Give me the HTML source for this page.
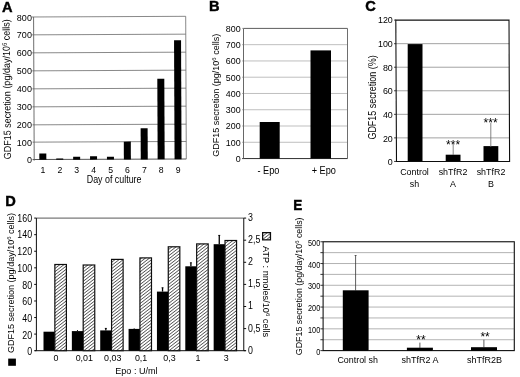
<!DOCTYPE html>
<html lang="en"><head><meta charset="utf-8"><title>GDF15 secretion figure</title>
<style>html,body{margin:0;padding:0;background:#fff;}body{width:520px;height:377px;overflow:hidden;}svg{display:block;font-family:'Liberation Sans', sans-serif;}</style>
</head><body>
<svg width="520" height="377" viewBox="0 0 520 377">
<defs><filter id="soft" x="0" y="0" width="520" height="377" filterUnits="userSpaceOnUse"><feGaussianBlur stdDeviation="0.35"/></filter><pattern id="hatch" width="2.5" height="2.5" patternUnits="userSpaceOnUse" patternTransform="rotate(-38)"><rect width="2.5" height="2.5" fill="#fff"/><rect width="2.5" height="0.7" fill="#333"/></pattern></defs>
<rect width="520" height="377" fill="#fff"/>
<g filter="url(#soft)">
<g transform="rotate(-0.25 110 88)">
<line x1="33.90" y1="16.65" x2="186.00" y2="16.65" stroke="#6c6c6c" stroke-width="0.8"/>
<line x1="33.90" y1="34.50" x2="186.00" y2="34.50" stroke="#6c6c6c" stroke-width="0.8"/>
<line x1="33.90" y1="52.50" x2="186.00" y2="52.50" stroke="#6c6c6c" stroke-width="0.8"/>
<line x1="33.90" y1="70.50" x2="186.00" y2="70.50" stroke="#6c6c6c" stroke-width="0.8"/>
<line x1="33.90" y1="88.50" x2="186.00" y2="88.50" stroke="#6c6c6c" stroke-width="0.8"/>
<line x1="33.90" y1="106.50" x2="186.00" y2="106.50" stroke="#6c6c6c" stroke-width="0.8"/>
<line x1="33.90" y1="124.50" x2="186.00" y2="124.50" stroke="#6c6c6c" stroke-width="0.8"/>
<line x1="33.90" y1="141.80" x2="186.00" y2="141.80" stroke="#6c6c6c" stroke-width="0.8"/>
<line x1="33.90" y1="16.65" x2="33.90" y2="160.25" stroke="#666" stroke-width="0.95"/>
<line x1="186.00" y1="16.65" x2="186.00" y2="159.25" stroke="#6c6c6c" stroke-width="0.8"/>
<line x1="32.40" y1="159.25" x2="186.00" y2="159.25" stroke="#555" stroke-width="1"/>
<line x1="32.40" y1="16.65" x2="33.90" y2="16.65" stroke="#666" stroke-width="0.9"/>
<line x1="32.40" y1="34.50" x2="33.90" y2="34.50" stroke="#666" stroke-width="0.9"/>
<line x1="32.40" y1="52.50" x2="33.90" y2="52.50" stroke="#666" stroke-width="0.9"/>
<line x1="32.40" y1="70.50" x2="33.90" y2="70.50" stroke="#666" stroke-width="0.9"/>
<line x1="32.40" y1="88.50" x2="33.90" y2="88.50" stroke="#666" stroke-width="0.9"/>
<line x1="32.40" y1="106.50" x2="33.90" y2="106.50" stroke="#666" stroke-width="0.9"/>
<line x1="32.40" y1="124.50" x2="33.90" y2="124.50" stroke="#666" stroke-width="0.9"/>
<line x1="32.40" y1="141.80" x2="33.90" y2="141.80" stroke="#666" stroke-width="0.9"/>
<line x1="32.40" y1="159.25" x2="33.90" y2="159.25" stroke="#666" stroke-width="0.9"/>
<rect x="39.05" y="153.10" width="7.00" height="6.45" fill="#000"/>
<rect x="55.95" y="158.20" width="7.00" height="1.35" fill="#000"/>
<rect x="72.85" y="156.70" width="7.00" height="2.85" fill="#000"/>
<rect x="89.75" y="156.20" width="7.00" height="3.35" fill="#000"/>
<rect x="106.65" y="156.80" width="7.00" height="2.75" fill="#000"/>
<rect x="123.55" y="141.70" width="7.00" height="17.85" fill="#000"/>
<rect x="140.45" y="128.40" width="7.00" height="31.15" fill="#000"/>
<rect x="157.35" y="78.90" width="7.00" height="80.65" fill="#000"/>
<rect x="174.25" y="40.50" width="7.00" height="119.05" fill="#000"/>
</g>
<text transform="translate(31.90 20.50) scale(0.97 1)" font-size="9.3" text-anchor="end" fill="#000">800</text>
<text transform="translate(31.90 38.35) scale(0.97 1)" font-size="9.3" text-anchor="end" fill="#000">700</text>
<text transform="translate(31.90 56.35) scale(0.97 1)" font-size="9.3" text-anchor="end" fill="#000">600</text>
<text transform="translate(31.90 74.35) scale(0.97 1)" font-size="9.3" text-anchor="end" fill="#000">500</text>
<text transform="translate(31.90 92.35) scale(0.97 1)" font-size="9.3" text-anchor="end" fill="#000">400</text>
<text transform="translate(31.90 110.35) scale(0.97 1)" font-size="9.3" text-anchor="end" fill="#000">300</text>
<text transform="translate(31.90 128.35) scale(0.97 1)" font-size="9.3" text-anchor="end" fill="#000">200</text>
<text transform="translate(31.90 145.65) scale(0.97 1)" font-size="9.3" text-anchor="end" fill="#000">100</text>
<text transform="translate(31.90 163.10) scale(0.97 1)" font-size="9.3" text-anchor="end" fill="#000">0</text>
<text transform="translate(42.95 172.70)" font-size="8.7" text-anchor="middle" fill="#000">1</text>
<text transform="translate(59.85 172.70)" font-size="8.7" text-anchor="middle" fill="#000">2</text>
<text transform="translate(76.75 172.70)" font-size="8.7" text-anchor="middle" fill="#000">3</text>
<text transform="translate(93.65 172.70)" font-size="8.7" text-anchor="middle" fill="#000">4</text>
<text transform="translate(110.55 172.70)" font-size="8.7" text-anchor="middle" fill="#000">5</text>
<text transform="translate(127.45 172.70)" font-size="8.7" text-anchor="middle" fill="#000">6</text>
<text transform="translate(144.35 172.70)" font-size="8.7" text-anchor="middle" fill="#000">7</text>
<text transform="translate(161.25 172.70)" font-size="8.7" text-anchor="middle" fill="#000">8</text>
<text transform="translate(178.15 172.70)" font-size="8.7" text-anchor="middle" fill="#000">9</text>
<text transform="translate(114.10 182.50) scale(0.855 1)" font-size="10.4" text-anchor="middle" fill="#000">Day of culture</text>
<text transform="translate(11.10 159.20) rotate(-90.65) scale(0.88 1)" font-size="10.2" text-anchor="start" textLength="159.09" lengthAdjust="spacingAndGlyphs" fill="#000">GDF15 secretion (pg/day/10<tspan font-size="66%" dy="-3">6</tspan><tspan dy="3"> cells)</tspan></text>
<text transform="translate(1.96 11.59) scale(0.95 1)" font-size="15.4" text-anchor="start" font-weight="bold" stroke="#000" stroke-width="0.45" fill="#000">A</text>
<line x1="243.50" y1="44.67" x2="347.50" y2="44.67" stroke="#b8b8b8" stroke-width="0.9"/>
<line x1="243.50" y1="60.94" x2="347.50" y2="60.94" stroke="#b8b8b8" stroke-width="0.9"/>
<line x1="243.50" y1="77.21" x2="347.50" y2="77.21" stroke="#b8b8b8" stroke-width="0.9"/>
<line x1="243.50" y1="93.47" x2="347.50" y2="93.47" stroke="#b8b8b8" stroke-width="0.9"/>
<line x1="243.50" y1="109.74" x2="347.50" y2="109.74" stroke="#b8b8b8" stroke-width="0.9"/>
<line x1="243.50" y1="126.01" x2="347.50" y2="126.01" stroke="#b8b8b8" stroke-width="0.9"/>
<line x1="243.50" y1="142.28" x2="347.50" y2="142.28" stroke="#b8b8b8" stroke-width="0.9"/>
<line x1="243.50" y1="28.40" x2="347.50" y2="28.40" stroke="#4a4a4a" stroke-width="0.9"/>
<line x1="347.50" y1="28.40" x2="347.50" y2="158.55" stroke="#666" stroke-width="0.95"/>
<line x1="243.50" y1="28.40" x2="243.50" y2="158.55" stroke="#555" stroke-width="0.9"/>
<line x1="242.00" y1="158.55" x2="347.50" y2="158.55" stroke="#333" stroke-width="1"/>
<line x1="242.30" y1="28.40" x2="243.50" y2="28.40" stroke="#777" stroke-width="0.8"/>
<text transform="translate(240.70 31.70) scale(0.9 1)" font-size="9.9" text-anchor="end" fill="#000">800</text>
<line x1="242.30" y1="44.67" x2="243.50" y2="44.67" stroke="#777" stroke-width="0.8"/>
<text transform="translate(240.70 47.97) scale(0.9 1)" font-size="9.9" text-anchor="end" fill="#000">700</text>
<line x1="242.30" y1="60.94" x2="243.50" y2="60.94" stroke="#777" stroke-width="0.8"/>
<text transform="translate(240.70 64.24) scale(0.9 1)" font-size="9.9" text-anchor="end" fill="#000">600</text>
<line x1="242.30" y1="77.21" x2="243.50" y2="77.21" stroke="#777" stroke-width="0.8"/>
<text transform="translate(240.70 80.51) scale(0.9 1)" font-size="9.9" text-anchor="end" fill="#000">500</text>
<line x1="242.30" y1="93.47" x2="243.50" y2="93.47" stroke="#777" stroke-width="0.8"/>
<text transform="translate(240.70 96.77) scale(0.9 1)" font-size="9.9" text-anchor="end" fill="#000">400</text>
<line x1="242.30" y1="109.74" x2="243.50" y2="109.74" stroke="#777" stroke-width="0.8"/>
<text transform="translate(240.70 113.04) scale(0.9 1)" font-size="9.9" text-anchor="end" fill="#000">300</text>
<line x1="242.30" y1="126.01" x2="243.50" y2="126.01" stroke="#777" stroke-width="0.8"/>
<text transform="translate(240.70 129.31) scale(0.9 1)" font-size="9.9" text-anchor="end" fill="#000">200</text>
<line x1="242.30" y1="142.28" x2="243.50" y2="142.28" stroke="#777" stroke-width="0.8"/>
<text transform="translate(240.70 145.58) scale(0.9 1)" font-size="9.9" text-anchor="end" fill="#000">100</text>
<line x1="242.30" y1="158.55" x2="243.50" y2="158.55" stroke="#777" stroke-width="0.8"/>
<text transform="translate(240.70 161.85) scale(0.9 1)" font-size="9.9" text-anchor="end" fill="#000">0</text>
<rect x="259.70" y="122.00" width="20.00" height="36.55" fill="#000"/>
<rect x="310.50" y="50.40" width="20.50" height="108.15" fill="#000"/>
<text transform="translate(268.40 173.90) scale(0.9 1)" font-size="10.2" text-anchor="middle" fill="#000">- Epo</text>
<text transform="translate(323.80 173.90) scale(0.9 1)" font-size="10.2" text-anchor="middle" fill="#000">+ Epo</text>
<text transform="translate(219.30 156.80) rotate(-90)" font-size="9.2" text-anchor="start" textLength="123.00" lengthAdjust="spacingAndGlyphs" fill="#000">GDF15 secretion (pg/10<tspan font-size="66%" dy="-3">6</tspan><tspan dy="3"> cells)</tspan></text>
<text transform="translate(208.90 11.35) scale(0.95 1)" font-size="15.4" text-anchor="start" font-weight="bold" stroke="#000" stroke-width="0.45" fill="#000">B</text>
<line x1="396.10" y1="43.66" x2="509.30" y2="43.66" stroke="#999" stroke-width="0.9"/>
<line x1="396.10" y1="67.22" x2="509.30" y2="67.22" stroke="#999" stroke-width="0.9"/>
<line x1="396.10" y1="90.78" x2="509.30" y2="90.78" stroke="#999" stroke-width="0.9"/>
<line x1="396.10" y1="114.33" x2="509.30" y2="114.33" stroke="#999" stroke-width="0.9"/>
<line x1="396.10" y1="137.89" x2="509.30" y2="137.89" stroke="#999" stroke-width="0.9"/>
<polygon points="395.8,20.1 509.0,20.0 509.6,161.5 396.5,161.4" fill="none" stroke="#111" stroke-width="1.1"/>
<line x1="394.10" y1="20.10" x2="396.10" y2="20.10" stroke="#222" stroke-width="0.9"/>
<text transform="translate(392.80 23.40) scale(0.9 1)" font-size="9.9" text-anchor="end" fill="#000">120</text>
<line x1="394.10" y1="43.66" x2="396.10" y2="43.66" stroke="#222" stroke-width="0.9"/>
<text transform="translate(392.80 47.06) scale(0.9 1)" font-size="9.9" text-anchor="end" fill="#000">100</text>
<line x1="394.10" y1="67.22" x2="396.10" y2="67.22" stroke="#222" stroke-width="0.9"/>
<text transform="translate(392.80 70.72) scale(0.9 1)" font-size="9.9" text-anchor="end" fill="#000">80</text>
<line x1="394.10" y1="90.78" x2="396.10" y2="90.78" stroke="#222" stroke-width="0.9"/>
<text transform="translate(392.80 94.38) scale(0.9 1)" font-size="9.9" text-anchor="end" fill="#000">60</text>
<line x1="394.10" y1="114.33" x2="396.10" y2="114.33" stroke="#222" stroke-width="0.9"/>
<text transform="translate(392.80 118.03) scale(0.9 1)" font-size="9.9" text-anchor="end" fill="#000">40</text>
<line x1="394.10" y1="137.89" x2="396.10" y2="137.89" stroke="#222" stroke-width="0.9"/>
<text transform="translate(392.80 141.69) scale(0.9 1)" font-size="9.9" text-anchor="end" fill="#000">20</text>
<line x1="394.10" y1="161.45" x2="396.10" y2="161.45" stroke="#222" stroke-width="0.9"/>
<text transform="translate(392.80 165.35) scale(0.9 1)" font-size="9.9" text-anchor="end" fill="#000">0</text>
<rect x="407.70" y="44.10" width="14.80" height="117.35" fill="#000"/>
<rect x="445.70" y="154.70" width="14.80" height="6.75" fill="#000"/>
<rect x="483.50" y="146.10" width="14.80" height="15.35" fill="#000"/>
<line x1="453.20" y1="144.10" x2="453.20" y2="155.00" stroke="#666" stroke-width="0.8"/>
<line x1="490.80" y1="122.70" x2="490.80" y2="147.00" stroke="#666" stroke-width="0.8"/>
<text transform="translate(453.10 149.10)" font-size="12" text-anchor="middle" fill="#000">***</text>
<text transform="translate(490.60 127.30)" font-size="12" text-anchor="middle" fill="#000">***</text>
<text transform="translate(414.50 175.00) scale(0.9 1)" font-size="9.9" text-anchor="middle" fill="#000">Control</text>
<text transform="translate(414.50 186.50) scale(0.9 1)" font-size="9.9" text-anchor="middle" fill="#000">sh</text>
<text transform="translate(453.00 175.00) scale(0.9 1)" font-size="9.9" text-anchor="middle" fill="#000">shTfR2</text>
<text transform="translate(453.00 186.50) scale(0.9 1)" font-size="9.9" text-anchor="middle" fill="#000">A</text>
<text transform="translate(491.00 175.00) scale(0.9 1)" font-size="9.9" text-anchor="middle" fill="#000">shTfR2</text>
<text transform="translate(491.00 186.50) scale(0.9 1)" font-size="9.9" text-anchor="middle" fill="#000">B</text>
<text transform="translate(375.60 139.60) rotate(-90) scale(0.86 1)" font-size="10.4" text-anchor="start" textLength="98.02" lengthAdjust="spacingAndGlyphs" fill="#000">GDF15 secretion (%)</text>
<text transform="translate(365.30 11.35) scale(0.95 1)" font-size="15.4" text-anchor="start" font-weight="bold" stroke="#000" stroke-width="0.45" fill="#000">C</text>
<line x1="36.40" y1="218.10" x2="243.75" y2="218.10" stroke="#2a2a2a" stroke-width="0.8"/>
<line x1="36.40" y1="218.10" x2="36.40" y2="350.70" stroke="#111" stroke-width="1"/>
<line x1="243.75" y1="218.10" x2="243.75" y2="350.70" stroke="#111" stroke-width="1"/>
<line x1="34.90" y1="350.70" x2="245.75" y2="350.70" stroke="#111" stroke-width="1"/>
<line x1="34.20" y1="218.10" x2="36.40" y2="218.10" stroke="#111" stroke-width="1"/>
<text transform="translate(32.10 221.60) scale(0.86 1)" font-size="10.3" text-anchor="end" fill="#000">160</text>
<line x1="34.20" y1="234.67" x2="36.40" y2="234.67" stroke="#111" stroke-width="1"/>
<text transform="translate(32.10 238.32) scale(0.86 1)" font-size="10.3" text-anchor="end" fill="#000">140</text>
<line x1="34.20" y1="251.25" x2="36.40" y2="251.25" stroke="#111" stroke-width="1"/>
<text transform="translate(32.10 255.05) scale(0.86 1)" font-size="10.3" text-anchor="end" fill="#000">120</text>
<line x1="34.20" y1="267.82" x2="36.40" y2="267.82" stroke="#111" stroke-width="1"/>
<text transform="translate(32.10 271.77) scale(0.86 1)" font-size="10.3" text-anchor="end" fill="#000">100</text>
<line x1="34.20" y1="284.40" x2="36.40" y2="284.40" stroke="#111" stroke-width="1"/>
<text transform="translate(32.10 288.50) scale(0.86 1)" font-size="10.3" text-anchor="end" fill="#000">80</text>
<line x1="34.20" y1="300.98" x2="36.40" y2="300.98" stroke="#111" stroke-width="1"/>
<text transform="translate(32.10 305.23) scale(0.86 1)" font-size="10.3" text-anchor="end" fill="#000">60</text>
<line x1="34.20" y1="317.55" x2="36.40" y2="317.55" stroke="#111" stroke-width="1"/>
<text transform="translate(32.10 321.95) scale(0.86 1)" font-size="10.3" text-anchor="end" fill="#000">40</text>
<line x1="34.20" y1="334.12" x2="36.40" y2="334.12" stroke="#111" stroke-width="1"/>
<text transform="translate(32.10 338.68) scale(0.86 1)" font-size="10.3" text-anchor="end" fill="#000">20</text>
<line x1="34.20" y1="350.70" x2="36.40" y2="350.70" stroke="#111" stroke-width="1"/>
<text transform="translate(32.10 355.40) scale(0.86 1)" font-size="10.3" text-anchor="end" fill="#000">0</text>
<line x1="243.75" y1="218.10" x2="246.15" y2="218.10" stroke="#111" stroke-width="1"/>
<text transform="translate(248.10 221.00) scale(0.86 1)" font-size="10.3" text-anchor="start" fill="#000">3</text>
<line x1="243.75" y1="240.20" x2="246.15" y2="240.20" stroke="#111" stroke-width="1"/>
<text transform="translate(248.10 243.10) scale(0.86 1)" font-size="10.3" text-anchor="start" fill="#000">2,5</text>
<line x1="243.75" y1="262.30" x2="246.15" y2="262.30" stroke="#111" stroke-width="1"/>
<text transform="translate(248.10 265.20) scale(0.86 1)" font-size="10.3" text-anchor="start" fill="#000">2</text>
<line x1="243.75" y1="284.40" x2="246.15" y2="284.40" stroke="#111" stroke-width="1"/>
<text transform="translate(248.10 287.30) scale(0.86 1)" font-size="10.3" text-anchor="start" fill="#000">1,5</text>
<line x1="243.75" y1="306.50" x2="246.15" y2="306.50" stroke="#111" stroke-width="1"/>
<text transform="translate(248.10 309.40) scale(0.86 1)" font-size="10.3" text-anchor="start" fill="#000">1</text>
<line x1="243.75" y1="328.60" x2="246.15" y2="328.60" stroke="#111" stroke-width="1"/>
<text transform="translate(248.10 331.50) scale(0.86 1)" font-size="10.3" text-anchor="start" fill="#000">0,5</text>
<line x1="243.75" y1="350.70" x2="246.15" y2="350.70" stroke="#111" stroke-width="1"/>
<text transform="translate(248.10 353.60) scale(0.86 1)" font-size="10.3" text-anchor="start" fill="#000">0</text>
<rect x="43.50" y="331.70" width="11.40" height="19.00" fill="#000"/>
<rect x="54.85" y="264.50" width="11.55" height="86.20" fill="url(#hatch)" stroke="#111" stroke-width="1.2"/>
<text transform="translate(55.90 361.40) scale(0.9 1)" font-size="9.9" text-anchor="middle" fill="#000">0</text>
<rect x="71.86" y="331.10" width="11.40" height="19.60" fill="#000"/>
<line x1="77.46" y1="330.00" x2="77.46" y2="331.10" stroke="#000" stroke-width="0.9"/>
<rect x="83.21" y="265.00" width="11.55" height="85.70" fill="url(#hatch)" stroke="#111" stroke-width="1.2"/>
<text transform="translate(84.30 361.40) scale(0.9 1)" font-size="9.9" text-anchor="middle" fill="#000">0,01</text>
<rect x="100.22" y="330.40" width="11.40" height="20.30" fill="#000"/>
<line x1="105.82" y1="328.10" x2="105.82" y2="330.40" stroke="#000" stroke-width="1.3"/>
<line x1="104.82" y1="328.40" x2="106.82" y2="328.40" stroke="#000" stroke-width="0.8"/>
<rect x="111.57" y="259.40" width="11.55" height="91.30" fill="url(#hatch)" stroke="#111" stroke-width="1.2"/>
<text transform="translate(112.70 361.40) scale(0.9 1)" font-size="9.9" text-anchor="middle" fill="#000">0,03</text>
<rect x="128.58" y="328.90" width="11.40" height="21.80" fill="#000"/>
<line x1="134.18" y1="328.20" x2="134.18" y2="328.90" stroke="#000" stroke-width="0.9"/>
<rect x="139.93" y="257.90" width="11.55" height="92.80" fill="url(#hatch)" stroke="#111" stroke-width="1.2"/>
<text transform="translate(141.10 361.40) scale(0.9 1)" font-size="9.9" text-anchor="middle" fill="#000">0,1</text>
<rect x="156.94" y="291.60" width="11.40" height="59.10" fill="#000"/>
<line x1="162.54" y1="287.50" x2="162.54" y2="291.60" stroke="#000" stroke-width="1.3"/>
<line x1="161.54" y1="287.80" x2="163.54" y2="287.80" stroke="#000" stroke-width="0.8"/>
<rect x="168.29" y="246.80" width="11.55" height="103.90" fill="url(#hatch)" stroke="#111" stroke-width="1.2"/>
<text transform="translate(169.50 361.40) scale(0.9 1)" font-size="9.9" text-anchor="middle" fill="#000">0,3</text>
<rect x="185.30" y="266.30" width="11.40" height="84.40" fill="#000"/>
<line x1="190.90" y1="262.50" x2="190.90" y2="266.30" stroke="#000" stroke-width="1.3"/>
<line x1="189.90" y1="262.80" x2="191.90" y2="262.80" stroke="#000" stroke-width="0.8"/>
<rect x="196.65" y="243.90" width="11.55" height="106.80" fill="url(#hatch)" stroke="#111" stroke-width="1.2"/>
<text transform="translate(197.90 361.40) scale(0.9 1)" font-size="9.9" text-anchor="middle" fill="#000">1</text>
<rect x="213.66" y="244.20" width="11.40" height="106.50" fill="#000"/>
<line x1="219.26" y1="235.10" x2="219.26" y2="244.20" stroke="#000" stroke-width="1.3"/>
<line x1="218.26" y1="235.40" x2="220.26" y2="235.40" stroke="#000" stroke-width="0.8"/>
<rect x="225.01" y="240.50" width="11.55" height="110.20" fill="url(#hatch)" stroke="#111" stroke-width="1.2"/>
<text transform="translate(226.30 361.40) scale(0.9 1)" font-size="9.9" text-anchor="middle" fill="#000">3</text>
<text transform="translate(136.40 373.50) scale(0.9 1)" font-size="9.9" text-anchor="middle" textLength="46.89" lengthAdjust="spacingAndGlyphs" fill="#000">Epo : U/ml</text>
<text transform="translate(14.30 353.10) rotate(-90)" font-size="9.4" text-anchor="start" textLength="140.20" lengthAdjust="spacingAndGlyphs" fill="#000">GDF15 secretion (pg/day/10<tspan font-size="66%" dy="-3">6</tspan><tspan dy="3"> cells)</tspan></text>
<rect x="8.20" y="358.60" width="7.70" height="7.20" fill="#000"/>
<rect x="262.65" y="232.65" width="7.80" height="7.20" fill="url(#hatch)" stroke="#111" stroke-width="1.3"/>
<text transform="translate(263.40 246.00) rotate(90)" font-size="9.2" text-anchor="start" textLength="91.20" lengthAdjust="spacingAndGlyphs" fill="#000">ATP : nmoles/10<tspan font-size="66%" dy="-3">6</tspan><tspan dy="3"> cells</tspan></text>
<text transform="translate(5.20 205.60) scale(0.95 1)" font-size="15.4" text-anchor="start" font-weight="bold" stroke="#000" stroke-width="0.45" fill="#000">D</text>
<line x1="323.10" y1="252.63" x2="514.30" y2="252.63" stroke="#aaa" stroke-width="0.9"/>
<line x1="323.10" y1="263.52" x2="514.30" y2="263.52" stroke="#aaa" stroke-width="0.9"/>
<line x1="323.10" y1="274.40" x2="514.30" y2="274.40" stroke="#aaa" stroke-width="0.9"/>
<line x1="323.10" y1="285.29" x2="514.30" y2="285.29" stroke="#aaa" stroke-width="0.9"/>
<line x1="323.10" y1="296.18" x2="514.30" y2="296.18" stroke="#aaa" stroke-width="0.9"/>
<line x1="323.10" y1="307.06" x2="514.30" y2="307.06" stroke="#aaa" stroke-width="0.9"/>
<line x1="323.10" y1="317.94" x2="514.30" y2="317.94" stroke="#aaa" stroke-width="0.9"/>
<line x1="323.10" y1="328.83" x2="514.30" y2="328.83" stroke="#aaa" stroke-width="0.9"/>
<line x1="323.10" y1="339.72" x2="514.30" y2="339.72" stroke="#aaa" stroke-width="0.9"/>
<rect x="323.10" y="241.75" width="191.20" height="108.85" fill="none" stroke="#111" stroke-width="1.1"/>
<line x1="320.40" y1="241.75" x2="323.10" y2="241.75" stroke="#222" stroke-width="0.9"/>
<text transform="translate(320.20 245.95) scale(0.82 1)" font-size="8.9" text-anchor="end" fill="#000">500</text>
<line x1="320.40" y1="252.63" x2="323.10" y2="252.63" stroke="#222" stroke-width="0.9"/>
<line x1="320.40" y1="263.52" x2="323.10" y2="263.52" stroke="#222" stroke-width="0.9"/>
<text transform="translate(320.20 267.72) scale(0.82 1)" font-size="8.9" text-anchor="end" fill="#000">400</text>
<line x1="320.40" y1="274.40" x2="323.10" y2="274.40" stroke="#222" stroke-width="0.9"/>
<line x1="320.40" y1="285.29" x2="323.10" y2="285.29" stroke="#222" stroke-width="0.9"/>
<text transform="translate(320.20 289.49) scale(0.82 1)" font-size="8.9" text-anchor="end" fill="#000">300</text>
<line x1="320.40" y1="296.18" x2="323.10" y2="296.18" stroke="#222" stroke-width="0.9"/>
<line x1="320.40" y1="307.06" x2="323.10" y2="307.06" stroke="#222" stroke-width="0.9"/>
<text transform="translate(320.20 311.26) scale(0.82 1)" font-size="8.9" text-anchor="end" fill="#000">200</text>
<line x1="320.40" y1="317.94" x2="323.10" y2="317.94" stroke="#222" stroke-width="0.9"/>
<line x1="320.40" y1="328.83" x2="323.10" y2="328.83" stroke="#222" stroke-width="0.9"/>
<text transform="translate(320.20 333.03) scale(0.82 1)" font-size="8.9" text-anchor="end" fill="#000">100</text>
<line x1="320.40" y1="339.72" x2="323.10" y2="339.72" stroke="#222" stroke-width="0.9"/>
<line x1="320.40" y1="350.60" x2="323.10" y2="350.60" stroke="#222" stroke-width="0.9"/>
<text transform="translate(320.20 354.80) scale(0.82 1)" font-size="8.9" text-anchor="end" fill="#000">0</text>
<rect x="342.80" y="290.30" width="25.80" height="60.30" fill="#000"/>
<rect x="406.90" y="347.70" width="26.00" height="2.90" fill="#000"/>
<rect x="471.00" y="347.20" width="26.00" height="3.40" fill="#000"/>
<line x1="355.60" y1="255.30" x2="355.60" y2="291.00" stroke="#333" stroke-width="0.8"/>
<line x1="354.60" y1="255.50" x2="356.60" y2="255.50" stroke="#333" stroke-width="0.7"/>
<line x1="419.90" y1="342.60" x2="419.90" y2="348.00" stroke="#333" stroke-width="0.8"/>
<line x1="483.90" y1="339.70" x2="483.90" y2="348.00" stroke="#333" stroke-width="0.8"/>
<text transform="translate(421.00 343.70)" font-size="12" text-anchor="middle" fill="#000">**</text>
<text transform="translate(485.10 340.60)" font-size="12" text-anchor="middle" fill="#000">**</text>
<text transform="translate(357.70 363.00)" font-size="9.0" text-anchor="middle" textLength="40.50" lengthAdjust="spacingAndGlyphs" fill="#000">Control sh</text>
<text transform="translate(420.00 363.00)" font-size="9.0" text-anchor="middle" fill="#000">shTfR2 A</text>
<text transform="translate(484.60 363.00)" font-size="9.0" text-anchor="middle" fill="#000">shTfR2B</text>
<text transform="translate(301.70 355.20) rotate(-90)" font-size="9.0" text-anchor="start" textLength="137.80" lengthAdjust="spacingAndGlyphs" fill="#000">GDF15 secretion (pg/day/10<tspan font-size="66%" dy="-3">6</tspan><tspan dy="3"> cells)</tspan></text>
<text transform="translate(293.20 209.61) scale(0.88 1)" font-size="15.4" text-anchor="start" font-weight="bold" stroke="#000" stroke-width="0.45" fill="#000">E</text>
</g>
</svg></body></html>
